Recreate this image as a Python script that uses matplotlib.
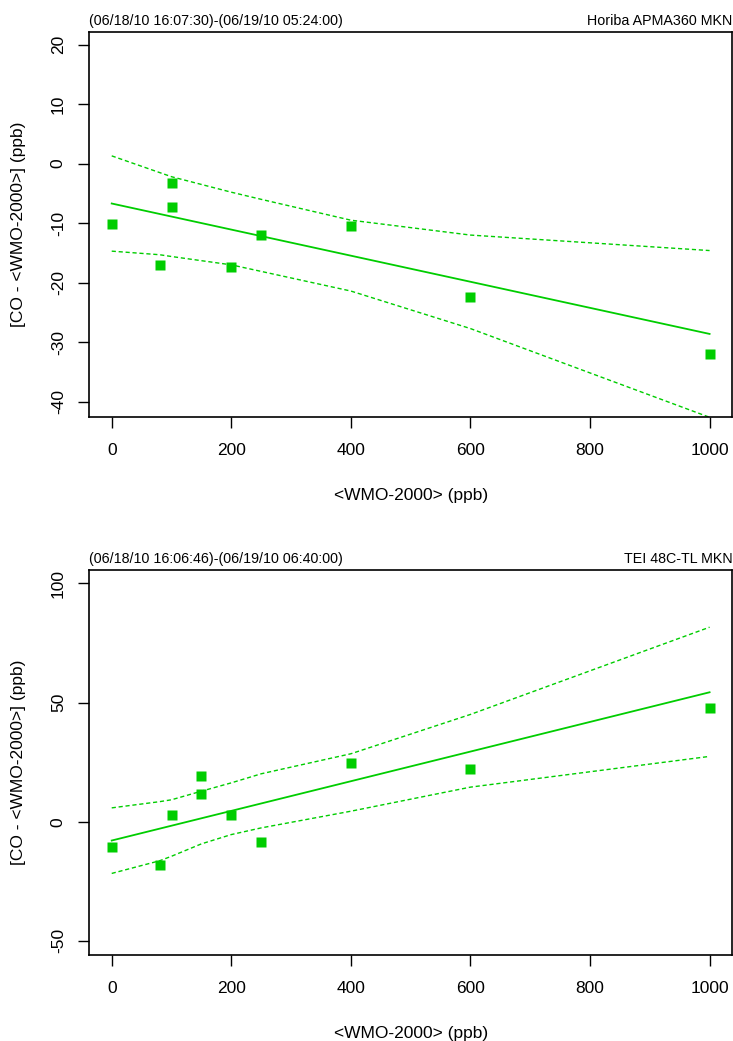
import matplotlib
matplotlib.use("Agg")
import matplotlib.pyplot as plt

plt.rcParams['font.family'] = ['Liberation Sans', 'DejaVu Sans']
plt.rcParams['axes.unicode_minus'] = False

# ---- panel 1: Horiba APMA360 ----
x_top = [0, 80, 100, 100, 200, 250, 400, 600, 1000]
y_top = [-10.2, -17.1, -3.3, -7.3, -17.4, -12.0, -10.4, -22.4, -32.0]
fit_x_top = [0, 1000]
fit_y_top = [-6.7, -28.6]
band_x_top = [0, 80, 100, 200, 250, 400, 600, 1000]
band_hi_top = [1.3, -1.5, -2.2, -4.8, -6.0, -9.5, -12.0, -14.6]
band_lo_top = [-14.7, -15.3, -15.6, -17.0, -18.1, -21.4, -27.7, -42.6]

# ---- panel 2: TEI 48C-TL ----
x_bot = [0, 80, 100, 150, 150, 200, 250, 400, 600, 1000]
y_bot = [-10.6, -18.3, 2.7, 19.3, 11.7, 2.9, -8.4, 24.6, 22.2, 47.6]
fit_x_bot = [0, 1000]
fit_y_bot = [-7.9, 54.3]
band_x_bot = [0, 80, 100, 150, 200, 250, 400, 600, 1000]
band_hi_bot = [5.8, 8.4, 9.2, 12.8, 16.3, 20.1, 28.5, 45.0, 81.6]
band_lo_bot = [-21.7, -16.4, -14.5, -9.3, -5.4, -2.6, 4.4, 14.5, 27.4]

panels = [
    dict(x=x_top, y=y_top, fx=fit_x_top, fy=fit_y_top, bx=band_x_top,
         bhi=band_hi_top, blo=band_lo_top, ylim=(-42.5, 22.1),
         yticks=[-40, -30, -20, -10, 0, 10, 20],
         left='(06/18/10 16:07:30)-(06/19/10 05:24:00)', right='Horiba APMA360 MKN',
         top_px=32),
    dict(x=x_bot, y=y_bot, fx=fit_x_bot, fy=fit_y_bot, bx=band_x_bot,
         bhi=band_hi_bot, blo=band_lo_bot, ylim=(-55.8, 105.6),
         yticks=[-50, 0, 50, 100],
         left='(06/18/10 16:06:46)-(06/19/10 06:40:00)', right='TEI 48C-TL MKN',
         top_px=570),
]

W, H = 733, 1041
fig = plt.figure(figsize=(W / 100, H / 100), dpi=100)
green = '#00CD00'

for p in panels:
    l, r = 89, 732.3
    t, b = p['top_px'], p['top_px'] + 384.7
    ax = fig.add_axes([l / W, 1 - b / H, (r - l) / W, (b - t) / H])
    ax.plot(p['bx'], p['bhi'], color=green, lw=1.0, dashes=(3, 2))
    ax.plot(p['bx'], p['blo'], color=green, lw=1.0, dashes=(3, 2))
    ax.plot(p['fx'], p['fy'], color=green, lw=1.3)
    ax.plot(p['x'], p['y'], 's', color=green, ms=6.5, mec='none')
    ax.set_xlim(-38, 1038)
    ax.set_ylim(*p['ylim'])
    ax.set_xticks([0, 200, 400, 600, 800, 1000])
    ax.set_yticks(p['yticks'])
    ax.tick_params(direction='out', length=7.7, width=1, labelsize=12.5, pad=9)
    ax.tick_params(axis='x', pad=11)
    for lab in ax.get_yticklabels():
        lab.set_rotation(90)
        lab.set_va('center')
    for s in ax.spines.values():
        s.set_linewidth(1.2)
    ax.set_xlabel('<WMO-2000> (ppb)', fontsize=12.5, labelpad=22)
    ax.set_ylabel('[CO - <WMO-2000>] (ppb)', fontsize=12.5, labelpad=18)
    ax.set_title(p['left'], loc='left', fontsize=10.3, pad=5)
    ax.set_title(p['right'], loc='right', fontsize=10.3, pad=5)

fig.savefig('out.png', dpi=100)
